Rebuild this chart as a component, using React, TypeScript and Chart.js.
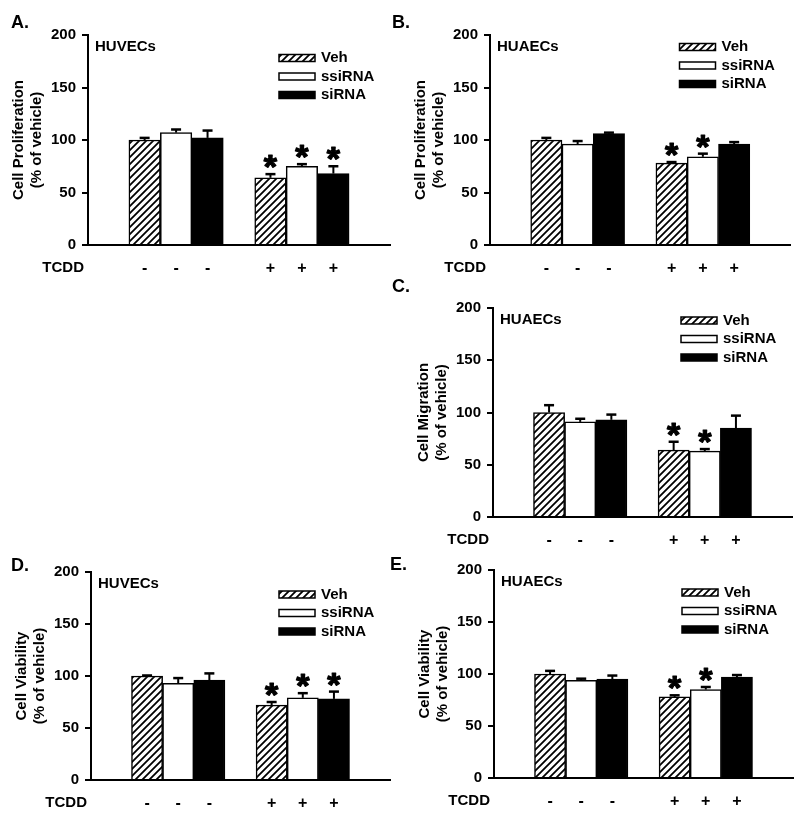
import React, { useEffect, useRef } from "react";
import { Chart, registerables } from "chart.js";
Chart.register(...registerables);

const FONT = '"Liberation Sans", Arial, Helvetica, sans-serif';

// ---- shared categories ----
const seriesNames = ["Veh", "ssiRNA", "siRNA"];
const tcddGroups = ["-", "+"];
const yTickValues = [0, 50, 100, 150, 200];
const yUnitLabel = "(% of vehicle)";

// ---- Panel A: HUVECs proliferation ----
const A_veh = [100, 64];
const A_vehErr = [2, 3.5];
const A_ss = [107, 75];
const A_ssErr = [3, 2];
const A_si = [102, 68];
const A_siErr = [7, 7];
const A_sig = [[false, true], [false, true], [false, true]];

// ---- Panel B: HUAECs proliferation ----
const B_veh = [100, 78];
const B_vehErr = [2, 1];
const B_ss = [96, 84];
const B_ssErr = [3, 3];
const B_si = [106, 96];
const B_siErr = [1, 2];
const B_sig = [[false, true], [false, true], [false, false]];

// ---- Panel C: HUAECs migration ----
const C_veh = [100, 64];
const C_vehErr = [7, 8];
const C_ss = [91, 63];
const C_ssErr = [3, 2];
const C_si = [93, 85];
const C_siErr = [5, 12];
const C_sig = [[false, true], [false, true], [false, false]];

// ---- Panel D: HUVECs viability ----
const D_veh = [100, 72];
const D_vehErr = [0.5, 3];
const D_ss = [93, 79];
const D_ssErr = [5, 4.5];
const D_si = [96, 78];
const D_siErr = [6.5, 7];
const D_sig = [[false, true], [false, true], [false, true]];

// ---- Panel E: HUAECs viability ----
const E_veh = [100, 78];
const E_vehErr = [3, 1.5];
const E_ss = [94, 85];
const E_ssErr = [1.5, 2.5];
const E_si = [95, 97];
const E_siErr = [3.5, 2];
const E_sig = [[false, true], [false, true], [false, false]];

type PanelData = {
  letter: string;
  cell: string;
  title: string;
  values: number[][];
  errors: number[][];
  sig: boolean[][];
};

type PanelLayout = {
  cx: number; L: number; R: number; T: number; B: number;
  legendTop: number; letterX: number; letterY: number;
};

const panels: { data: PanelData; layout: PanelLayout }[] = [
  {
    data: { letter: "A.", cell: "HUVECs", title: "Cell Proliferation", values: [A_veh, A_ss, A_si], errors: [A_vehErr, A_ssErr, A_siErr], sig: A_sig },
    layout: { cx: 0, L: 88, R: 390, T: 35, B: 245, legendTop: 23, letterX: 11, letterY: 12.5 },
  },
  {
    data: { letter: "B.", cell: "HUAECs", title: "Cell Proliferation", values: [B_veh, B_ss, B_si], errors: [B_vehErr, B_ssErr, B_siErr], sig: B_sig },
    layout: { cx: 400, L: 490, R: 790.5, T: 35, B: 245, legendTop: 12, letterX: 392, letterY: 12.5 },
  },
  {
    data: { letter: "C.", cell: "HUAECs", title: "Cell Migration", values: [C_veh, C_ss, C_si], errors: [C_vehErr, C_ssErr, C_siErr], sig: C_sig },
    layout: { cx: 400, L: 493, R: 792, T: 308, B: 517, legendTop: 12.5, letterX: 392, letterY: 276.5 },
  },
  {
    data: { letter: "D.", cell: "HUVECs", title: "Cell Viability", values: [D_veh, D_ss, D_si], errors: [D_vehErr, D_ssErr, D_siErr], sig: D_sig },
    layout: { cx: 0, L: 91, R: 390, T: 572, B: 780, legendTop: 22.5, letterX: 11, letterY: 555.5 },
  },
  {
    data: { letter: "E.", cell: "HUAECs", title: "Cell Viability", values: [E_veh, E_ss, E_si], errors: [E_vehErr, E_ssErr, E_siErr], sig: E_sig },
    layout: { cx: 400, L: 494, R: 793, T: 570, B: 778, legendTop: 22.5, letterX: 390, letterY: 554.5 },
  },
];

const Y_AXIS_W = 88;
const X_AXIS_H = 40;
const PAD_TOP = 35;
const CANVAS_W = 400;

function makeHatch(): CanvasPattern | string {
  const s = 7;
  const c = document.createElement("canvas");
  c.width = s;
  c.height = s;
  const g = c.getContext("2d");
  if (!g) return "#fff";
  g.fillStyle = "#fff";
  g.fillRect(0, 0, s, s);
  g.strokeStyle = "#000";
  g.lineWidth = 1.8;
  g.beginPath();
  g.moveTo(0, s); g.lineTo(s, 0);
  g.moveTo(-s / 2, s / 2); g.lineTo(s / 2, -s / 2);
  g.moveTo(s / 2, s * 1.5); g.lineTo(s * 1.5, s / 2);
  g.stroke();
  return g.createPattern(c, "repeat") || "#fff";
}

function slotOf(group: number, series: number) {
  return group * (seriesNames.length + 1) + series + 1;
}

function Panel({ data, layout }: { data: PanelData; layout: PanelLayout }) {
  const ref = useRef<HTMLCanvasElement | null>(null);
  const height = layout.B - layout.T + PAD_TOP + X_AXIS_H;

  useEffect(() => {
    const canvas = ref.current;
    if (!canvas) return;
    const fills = [makeHatch(), "#ffffff", "#000000"];
    const tickSlots: number[] = [];
    const tickText: Record<number, string> = {};
    tcddGroups.forEach((g, gi) => {
      seriesNames.forEach((_, s) => {
        const p = slotOf(gi, s);
        tickSlots.push(p);
        tickText[p] = g;
      });
    });
    const xMax = slotOf(tcddGroups.length - 1, seriesNames.length - 1) + 1;

    const overlay = {
      id: "overlay",
      afterDatasetsDraw(chart: any) {
        const ctx = chart.ctx as CanvasRenderingContext2D;
        const yS = chart.scales.y;
        chart.data.datasets.forEach((_: any, s: number) => {
          const meta = chart.getDatasetMeta(s);
          meta.data.forEach((bar: any, g: number) => {
            const v = data.values[s][g];
            const e = data.errors[s][g];
            const x = bar.x;
            const yv = yS.getPixelForValue(v);
            const yt = yS.getPixelForValue(v + e);
            ctx.save();
            ctx.strokeStyle = "#000";
            ctx.lineWidth = 2;
            ctx.beginPath();
            ctx.moveTo(x, yv);
            ctx.lineTo(x, yt);
            ctx.stroke();
            ctx.lineWidth = 2.5;
            ctx.beginPath();
            ctx.moveTo(x - 5, yt);
            ctx.lineTo(x + 5, yt);
            ctx.stroke();
            if (data.sig[s][g]) {
              ctx.fillStyle = "#000";
              ctx.strokeStyle = "#000";
              ctx.lineWidth = 1.2;
              ctx.lineJoin = "round";
              ctx.font = `bold 34px ${FONT}`;
              ctx.textAlign = "center";
              ctx.textBaseline = "alphabetic";
              const m = ctx.measureText("*");
              const asc = m.actualBoundingBoxAscent;
              const desc = m.actualBoundingBoxDescent;
              const cyStar = yt - 12.5;
              const by = cyStar - (desc - asc) / 2;
              ctx.fillText("*", x, by);
              ctx.strokeText("*", x, by);
            }
            ctx.restore();
          });
        });
      },
      afterDraw(chart: any) {
        const ctx = chart.ctx as CanvasRenderingContext2D;
        const area = chart.chartArea;
        ctx.save();
        ctx.fillStyle = "#000";
        ctx.font = `bold 15px ${FONT}`;
        ctx.textBaseline = "middle";
        // cell type label
        ctx.textAlign = "left";
        ctx.fillText(data.cell, area.left + 7, area.top + 12);
        // legend
        chart.data.datasets.forEach((ds: any, i: number) => {
          const sx = area.right - 111;
          const sy = area.top + layout.legendTop + i * 18.5;
          ctx.fillStyle = ds.backgroundColor;
          ctx.fillRect(sx, sy - 3.5, 36, 7);
          ctx.strokeStyle = "#000";
          ctx.lineWidth = 1.5;
          ctx.strokeRect(sx, sy - 3.5, 36, 7);
          ctx.fillStyle = "#000";
          ctx.textAlign = "left";
          ctx.fillText(ds.label, sx + 42, sy);
        });
        // TCDD row label
        ctx.textAlign = "right";
        ctx.fillText("TCDD", area.left - 4, area.bottom + 23);
        ctx.restore();
      },
    };

    const chart = new Chart(canvas, {
      type: "bar",
      data: {
        datasets: seriesNames.map((name, s) => ({
          label: name,
          data: tcddGroups.map((_, gi) => ({ x: slotOf(gi, s), y: data.values[s][gi] })),
          backgroundColor: fills[s] as any,
          borderColor: "#000",
          borderWidth: 1.5,
          borderSkipped: "bottom",
          barPercentage: 1,
          categoryPercentage: 1,
          grouped: false,
        })),
      },
      options: {
        responsive: false,
        animation: false,
        devicePixelRatio: 1,
        events: [],
        layout: {
          padding: {
            left: layout.L - layout.cx - Y_AXIS_W,
            right: layout.cx + CANVAS_W - layout.R,
            top: PAD_TOP,
            bottom: 0,
          },
        },
        plugins: { legend: { display: false }, tooltip: { enabled: false } },
        scales: {
          x: {
            type: "linear",
            min: 0,
            max: xMax,
            afterBuildTicks: (sc: any) => {
              sc.ticks = tickSlots.map((v) => ({ value: v }));
            },
            afterFit: (sc: any) => {
              sc.height = X_AXIS_H;
            },
            grid: { display: false, drawTicks: false },
            border: { display: true, color: "#000", width: 2, z: 1 },
            ticks: {
              color: "#000",
              font: { family: FONT, size: 16, weight: "bold" },
              padding: 14,
              autoSkip: false,
              maxRotation: 0,
              callback: (v: any) => tickText[v as number] ?? "",
            },
          },
          y: {
            min: 0,
            max: 200,
            afterBuildTicks: (sc: any) => {
              sc.ticks = yTickValues.map((v) => ({ value: v }));
            },
            afterFit: (sc: any) => {
              sc.width = Y_AXIS_W;
            },
            ticks: {
              color: "#000",
              font: { family: FONT, size: 15, weight: "bold" },
              padding: 6,
            },
            grid: {
              display: true,
              drawOnChartArea: false,
              drawTicks: true,
              tickLength: 6,
              tickWidth: 2,
              tickColor: "#000",
              color: "#000",
              lineWidth: 2,
            },
            border: { display: true, color: "#000", width: 2 },
            title: {
              display: true,
              text: [data.title, yUnitLabel],
              color: "#000",
              font: { family: FONT, size: 15, weight: "bold", lineHeight: 1.233 },
              padding: { top: 9.25, bottom: 0 },
            },
          },
        },
      },
      plugins: [overlay],
    } as any);
    return () => chart.destroy();
  }, [data, layout]);

  return (
    <canvas
      ref={ref}
      width={CANVAS_W}
      height={height}
      style={{ position: "absolute", left: layout.cx, top: layout.T - PAD_TOP, width: CANVAS_W, height }}
    />
  );
}

export default function App() {
  return (
    <div style={{ position: "absolute", left: 0, top: 0, width: 800, height: 817, overflow: "hidden", background: "#fff" }}>
      {panels.map((p, i) => (
        <Panel key={i} data={p.data} layout={p.layout} />
      ))}
      {panels.map((p, i) => (
        <div
          key={"l" + i}
          style={{
            position: "absolute",
            left: p.layout.letterX,
            top: p.layout.letterY,
            font: `bold 18px ${FONT}`,
            lineHeight: "18px",
            color: "#000",
          }}
        >
          {p.data.letter}
        </div>
      ))}
    </div>
  );
}
